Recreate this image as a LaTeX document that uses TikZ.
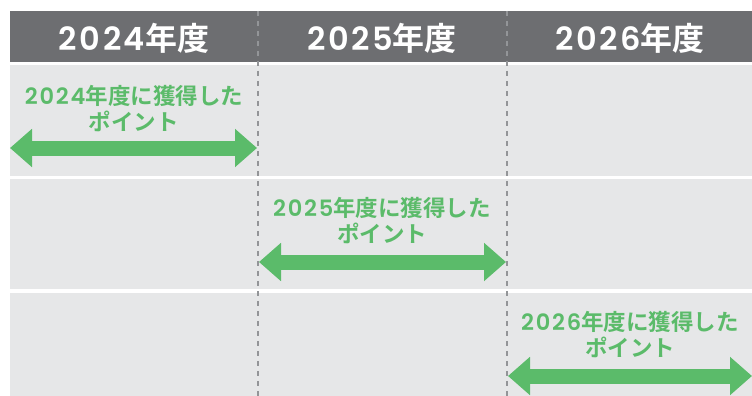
\documentclass[tikz,border=0pt]{standalone}
\usepackage{fontspec}
\setmainfont{Noto Sans CJK JP}[BoldFont={Noto Sans CJK JP Bold}]
\newfontfamily\digitfont{Poppins}[BoldFont={Poppins SemiBold}, LetterSpace=8]
\usepackage{xcolor}
\usetikzlibrary{arrows.meta,positioning}

\definecolor{headgray}{HTML}{6D6E71}
\definecolor{rowgray}{HTML}{E6E7E8}
\definecolor{dashgray}{HTML}{939598}
\definecolor{pointgreen}{HTML}{5BBB6A}

\begin{document}
\begin{tikzpicture}[
            x=1pt, y=-1pt,
            yearhead/.style={font=\bfseries\fontsize{32}{32}\selectfont, text=white},
            pointlabel/.style={font=\bfseries\fontsize{22.5}{26}\selectfont, text=pointgreen, align=center},
            span/.style={line width=15pt, draw=pointgreen, {Triangle[length=22pt,width=37pt]}-{Triangle[length=22pt,width=37pt]}},
            divider/.style={draw=dashgray, line width=2pt, dash pattern=on 5pt off 5pt}
        ]
            \useasboundingbox (0,0) rectangle (752,396);

            % --- HEADER BAND ---
            \fill[headgray] (10,11) rectangle (752,62);
            \node[yearhead] (hd2024) at (134,38) {{\digitfont 2024}年度};
            \node[yearhead] (hd2025) at (382,38) {{\digitfont 2025}年度};
            \node[yearhead] (hd2026) at (630,38) {{\digitfont 2026}年度};

            % --- ROWS ---
            \fill[rowgray] (10,65) rectangle (752,176);
            \fill[rowgray] (10,179) rectangle (752,289);
            \fill[rowgray] (10,293) rectangle (752,396);

            % --- DIVIDER LINES (Vertical) ---
            \coordinate (div1top) at (258,11);
            \coordinate (div1bot) at (258,396);
            \coordinate (div2top) at (507,11);
            \coordinate (div2bot) at (507,396);
            \draw[divider] (div1top) -- (div1bot);
            \draw[divider] (div2top) -- (div2bot);

            % --- ROW 1: 2024 ---
            \node[pointlabel] (pt2024) at (134,109) {{\digitfont 2024}年度に獲得した\\ポイント};
            \coordinate (from2024) at (10,148);
            \coordinate (to2024) at (257,148);
            \draw[span] (from2024) -- (to2024);

            % --- ROW 2: 2025 ---
            \node[pointlabel] (pt2025) at (382,221) {{\digitfont 2025}年度に獲得した\\ポイント};
            \coordinate (from2025) at (259,262);
            \coordinate (to2025) at (506,262);
            \draw[span] (from2025) -- (to2025);

            % --- ROW 3: 2026 ---
            \node[pointlabel] (pt2026) at (630,335) {{\digitfont 2026}年度に獲得した\\ポイント};
            \coordinate (from2026) at (508,376);
            \coordinate (to2026) at (752,376);
            \draw[span] (from2026) -- (to2026);

        \end{tikzpicture}
\end{document}
